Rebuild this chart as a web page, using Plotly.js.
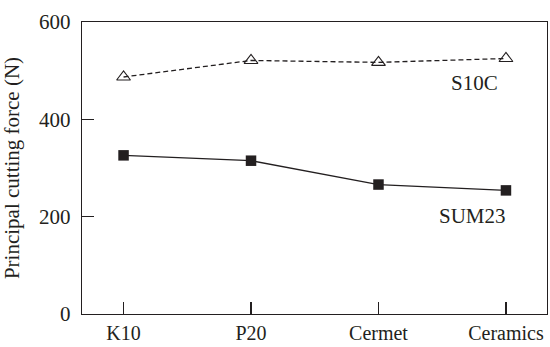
<!DOCTYPE html>
<html>
<head>
<meta charset="utf-8">
<script src="https://cdn.plot.ly/plotly-3.0.1.min.js"></script>
<style>html,body{margin:0;padding:0;background:#fff;}#chart{width:550px;height:347px;}</style>
</head>
<body>
<div id="chart"></div>
<script>
var categories = ["K10", "P20", "Cermet", "Ceramics"];
var s10c = [487, 521, 517, 525];
var sum23 = [326, 315, 266, 254];
var yTicks = [0, 200, 400, 600];
var seriesNames = ["S10C", "SUM23"];

var ink = "#231f20";
var fontFam = "Liberation Serif";

var traces = [
  {
    x: categories, y: s10c, type: "scatter", mode: "lines+markers", name: seriesNames[0],
    line: {color: ink, width: 1.3, dash: "5px,3px"},
    marker: {symbol: "triangle-up-open", size: 12, color: ink, line: {color: ink, width: 1.1}}
  },
  {
    x: categories, y: sum23, type: "scatter", mode: "lines+markers", name: seriesNames[1],
    line: {color: ink, width: 1.3},
    marker: {symbol: "square", size: 10.5, color: ink}
  }
];

var layout = {
  width: 550, height: 347,
  margin: {l: 82, r: 3, t: 22, b: 33},
  paper_bgcolor: "#fff", plot_bgcolor: "#fff",
  showlegend: false,
  font: {family: fontFam, size: 20, color: ink},
  xaxis: {
    type: "category", range: [-0.326, 3.322],
    showline: true, linecolor: ink, linewidth: 1.3, mirror: true,
    ticks: "inside", ticklen: 12, tickwidth: 1.2, tickcolor: ink,
    showgrid: false, zeroline: false, ticklabelstandoff: 1,
    tickfont: {family: fontFam, size: 20, color: ink}
  },
  yaxis: {
    range: [0, 600], tickvals: yTicks, ticktext: yTicks.map(String),
    showline: true, linecolor: ink, linewidth: 1.3, mirror: true,
    ticks: "inside", ticklen: 12, tickwidth: 1.2, tickcolor: ink,
    showgrid: false, zeroline: false, ticklabelstandoff: 6,
    tickfont: {family: fontFam, size: 21, color: ink},
    title: {text: "Principal cutting force (N)", font: {family: fontFam, size: 21, color: ink}, standoff: 14}
  },
  annotations: [
    {x: 2.75, y: 475, xref: "x", yref: "y", text: seriesNames[0], showarrow: false, font: {family: fontFam, size: 21, color: ink}},
    {x: 2.74, y: 201, xref: "x", yref: "y", text: seriesNames[1], showarrow: false, font: {family: fontFam, size: 21, color: ink}}
  ]
};

Plotly.newPlot("chart", traces, layout, {displayModeBar: false, staticPlot: true});
</script>
</body>
</html>
